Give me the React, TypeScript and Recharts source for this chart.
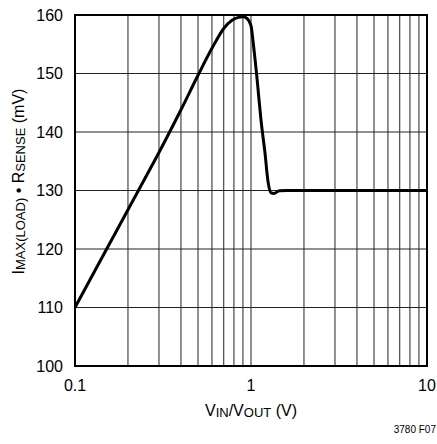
import React from "react";
import {
  LineChart,
  Line,
  XAxis,
  YAxis,
  CartesianGrid,
  ReferenceArea,
  Label,
} from "recharts";

// V_IN/V_OUT (log scale)
const ratio = [
  0.1, 0.12, 0.15, 0.2, 0.25, 0.3, 0.4, 0.5, 0.6, 0.7, 0.78, 0.85, 0.9, 0.95,
  1.0, 1.03, 1.07, 1.15, 1.2, 1.25, 1.3, 1.35, 1.45, 1.6, 2, 5, 10,
];
// I_MAX(LOAD) * R_SENSE in mV
const senseMv = [
  110, 114.4, 119.8, 126.7, 132.1, 136.5, 143.8, 149.7, 154.3, 157.7, 159.1,
  159.6, 159.7, 159.4, 158.2, 155.2, 150.6, 141, 136.5, 131.5, 129.6, 129.5,
  129.95, 130, 130, 130, 130,
];

const xTicks = [0.1, 0.2, 0.3, 0.4, 0.5, 0.6, 0.7, 0.8, 0.9, 1, 2, 3, 4, 5, 6, 7, 8, 9, 10];
const xLabeled = [0.1, 1, 10];
const yTicks = [100, 110, 120, 130, 140, 150, 160];

const FONT = '"Liberation Sans", Arial, sans-serif';

const data = ratio.map((x, i) => ({ x, y: senseMv[i] }));

const XTitle = (props: any) => {
  const vb = props.viewBox;
  const cx = vb.x + vb.width / 2;
  return (
    <text x={cx} y={vb.y + 50} textAnchor="middle" fontSize={16} fontFamily={FONT} fill="#000">
      <tspan>V</tspan>
      <tspan fontSize={13} dy={1}>IN</tspan>
      <tspan dy={-1}>/V</tspan>
      <tspan fontSize={13} dy={1}>OUT</tspan>
      <tspan dy={-1}> (V)</tspan>
    </text>
  );
};

const YTitle = (props: any) => {
  const vb = props.viewBox;
  const x = 24;
  const y = vb.y + vb.height / 2 - 9;
  return (
    <text
      x={x}
      y={y}
      transform={`rotate(-90, ${x}, ${y})`}
      textAnchor="middle"
      fontSize={16}
      fontFamily={FONT}
      fill="#000"
    >
      <tspan>I</tspan>
      <tspan fontSize={13} dy={1}>MAX(LOAD)</tspan>
      <tspan dy={-1}> • R</tspan>
      <tspan fontSize={13} dy={1}>SENSE</tspan>
      <tspan dy={-1}> (mV)</tspan>
    </text>
  );
};

export default function App() {
  return (
    <div style={{ position: "absolute", left: 0, top: 0, width: 437, height: 444, background: "#fff" }}>
      <LineChart
        width={437}
        height={444}
        data={data}
        margin={{ top: 15, right: 10, bottom: 38, left: 0 }}
      >
        <CartesianGrid stroke="#222" strokeWidth={1} />
        <XAxis
          dataKey="x"
          type="number"
          scale="log"
          domain={[0.1, 10]}
          ticks={xTicks}
          allowDataOverflow
          interval={0}
          height={40}
          tickSize={0}
          tickMargin={14}
          axisLine={false}
          tickLine={false}
          tickFormatter={(v: number) => (xLabeled.includes(v) ? String(v) : "")}
          tick={{ fontSize: 16, fontFamily: FONT, fill: "#000" }}
        >
          <Label content={XTitle} />
        </XAxis>
        <YAxis
          type="number"
          domain={[100, 160]}
          ticks={yTicks}
          interval={0}
          width={75}
          tickSize={0}
          tickMargin={12}
          axisLine={false}
          tickLine={false}
          tick={{ fontSize: 16, fontFamily: FONT, fill: "#000" }}
        >
          <Label content={YTitle} />
        </YAxis>
        <ReferenceArea
          x1={0.1}
          x2={10}
          y1={100}
          y2={160}
          fill="none"
          stroke="#000"
          strokeWidth={2}
          ifOverflow="visible"
        />
        <Line
          type="monotone"
          dataKey="y"
          stroke="#000"
          strokeWidth={3}
          dot={false}
          isAnimationActive={false}
        />
      </LineChart>
      <div
        style={{
          position: "absolute",
          right: 1,
          top: 424,
          fontSize: 10,
          fontFamily: FONT,
          color: "#000",
        }}
      >
        3780 F07
      </div>
    </div>
  );
}
